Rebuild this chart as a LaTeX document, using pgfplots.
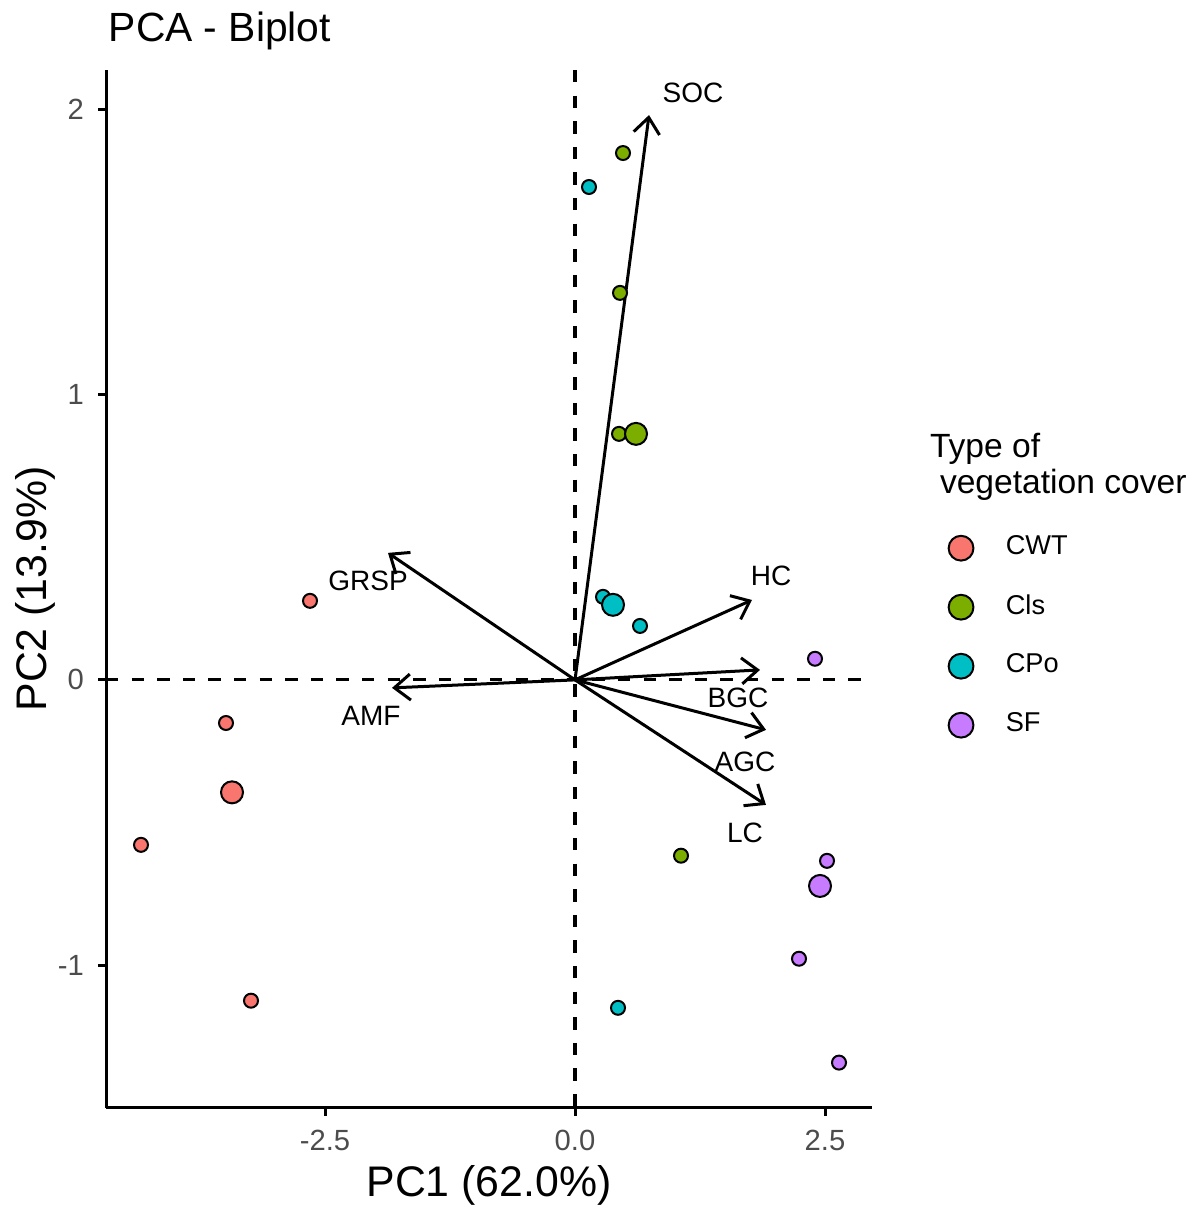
\documentclass[border=0pt]{standalone}
\usepackage{pgfplots}
\pgfplotsset{compat=1.18}
\usepackage{fontspec}
\setmainfont{Liberation Sans}
\usetikzlibrary{arrows.meta}
\definecolor{cwt}{HTML}{F8766D}
\definecolor{cls}{HTML}{7CAE00}
\definecolor{cpo}{HTML}{00BFC4}
\definecolor{sf}{HTML}{C77CFF}
\pgfplotsset{
    vararrow/.style={black, line width=0.75pt, -{Straight Barb[length=4pt, width=6.5pt]}, forget plot},
    refline/.style={black, line width=0.8pt, dash pattern=on 3.1pt off 3.3pt, forget plot},
}
\begin{document}
\begin{tikzpicture}[x=1pt,y=1pt]
\path[use as bounding box] (0,0) rectangle (298.25,302);
\begin{axis}[
    at={(26.5pt,25pt)}, anchor=south west,
    scale only axis, width=191.5pt, height=259.5pt,
    xmin=-4.69, xmax=2.97, ymin=-1.5, ymax=2.137,
    axis x line*=bottom, axis y line*=left,
    axis line style={line width=0.75pt, -},
    tick align=outside, major tick length=2pt,
    tick style={line width=0.75pt, black},
    xtick={-2.5,0,2.5}, xticklabels={-2.5,0.0,2.5},
    ytick={-1,0,1,2}, yticklabels={-1,0,1,2},
    ticklabel style={font=\fontsize{7.3}{8}\selectfont, text=black!70},
    xlabel={PC1 (62.0\%)}, ylabel={PC2 (13.9\%)},
    label style={font=\fontsize{10.7}{13}\selectfont},
    xlabel style={at={(axis description cs:0.5,0)}, anchor=center, yshift=-19.25pt},
    ylabel style={at={(axis description cs:0,0.5)}, anchor=center, yshift=17.75pt},
    clip=false,
    legend style={at={(1.099,0.5685)}, anchor=north west, draw=none, fill=none,
        inner sep=0pt, row sep=0pt, font=\fontsize{6.8}{8}\selectfont,
        nodes={inner xsep=8.1pt, inner ysep=0pt, minimum height=14.75pt}},
    legend cell align=left,
    ]
    % reference lines
    \addplot[refline] coordinates {(0,2.137) (0,-1.5)};
    \addplot[refline] coordinates {(-4.69,0) (2.97,0)};

    % individuals
    \addplot[only marks, mark=*, mark size=1.75pt, mark options={draw=black, fill=cwt, line width=0.5pt}, forget plot]
        coordinates {(-2.65,0.277) (-3.49,-0.151) (-4.34,-0.578) (-3.24,-1.124)};
    \addplot[only marks, mark=*, mark size=2.75pt, mark options={draw=black, fill=cwt, line width=0.5pt}, forget plot]
        coordinates {(-3.43,-0.394)};
    \addplot[only marks, mark=*, mark size=1.75pt, mark options={draw=black, fill=cls, line width=0.5pt}, forget plot]
        coordinates {(0.48,1.846) (0.45,1.356) (0.44,0.862) (1.06,-0.616)};
    \addplot[only marks, mark=*, mark size=2.75pt, mark options={draw=black, fill=cls, line width=0.5pt}, forget plot]
        coordinates {(0.61,0.862)};
    \addplot[only marks, mark=*, mark size=1.75pt, mark options={draw=black, fill=cpo, line width=0.5pt}, forget plot]
        coordinates {(0.14,1.727) (0.28,0.291) (0.65,0.189) (0.43,-1.149)};
    \addplot[only marks, mark=*, mark size=2.75pt, mark options={draw=black, fill=cpo, line width=0.5pt}, forget plot]
        coordinates {(0.38,0.263)};
    \addplot[only marks, mark=*, mark size=1.75pt, mark options={draw=black, fill=sf, line width=0.5pt}, forget plot]
        coordinates {(2.40,0.074) (2.52,-0.634) (2.24,-0.977) (2.64,-1.341)};
    \addplot[only marks, mark=*, mark size=2.75pt, mark options={draw=black, fill=sf, line width=0.5pt}, forget plot]
        coordinates {(2.45,-0.722)};

    % variables
    \addplot[vararrow] coordinates {(0,0) (0.74,1.979)};
    \addplot[vararrow] coordinates {(0,0) (-1.87,0.445)};
    \addplot[vararrow] coordinates {(0,0) (1.77,0.280)};
    \addplot[vararrow] coordinates {(0,0) (1.85,0.035)};
    \addplot[vararrow] coordinates {(0,0) (1.91,-0.175)};
    \addplot[vararrow] coordinates {(0,0) (1.91,-0.438)};
    \addplot[vararrow] coordinates {(0,0) (-1.83,-0.028)};

    \begin{scope}[font=\fontsize{7}{8}\selectfont]
    \node at (axis cs:1.18,2.056) {SOC};
    \node at (axis cs:-2.07,0.347) {GRSP};
    \node at (axis cs:1.96,0.364) {HC};
    \node at (axis cs:1.63,-0.063) {BGC};
    \node at (axis cs:1.70,-0.287) {AGC};
    \node at (axis cs:1.70,-0.536) {LC};
    \node at (axis cs:-2.04,-0.126) {AMF};
    \end{scope}

    % legend
    \addlegendimage{only marks, mark=*, mark size=3.1pt, mark options={draw=black, fill=cwt, line width=0.5pt}}
    \addlegendentry{CWT}
    \addlegendimage{only marks, mark=*, mark size=3.1pt, mark options={draw=black, fill=cls, line width=0.5pt}}
    \addlegendentry{Cls}
    \addlegendimage{only marks, mark=*, mark size=3.1pt, mark options={draw=black, fill=cpo, line width=0.5pt}}
    \addlegendentry{CPo}
    \addlegendimage{only marks, mark=*, mark size=3.1pt, mark options={draw=black, fill=sf, line width=0.5pt}}
    \addlegendentry{SF}
\end{axis}
\node[anchor=base west, font=\fontsize{10.2}{12}\selectfont, inner sep=0pt] at (27,291.5) {PCA - Biplot};
\node[anchor=base west, font=\fontsize{8.4}{9}\selectfont, inner sep=0pt] at (232.3,187.5) {Type of};
\node[anchor=base west, font=\fontsize{8.4}{9}\selectfont, inner sep=0pt] at (234.8,178.5) {vegetation cover};
\end{tikzpicture}
\end{document}
